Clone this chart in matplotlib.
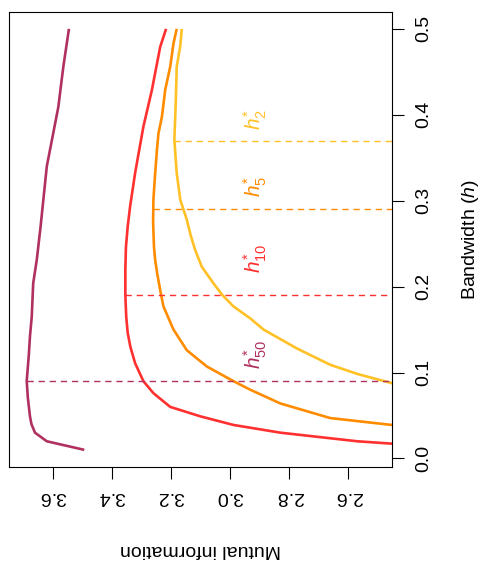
import numpy as np
import matplotlib
matplotlib.use("Agg")
import matplotlib.pyplot as plt

plt.rcParams['font.family'] = ['Liberation Sans', 'DejaVu Sans']
plt.rcParams['mathtext.fontset'] = 'custom'
plt.rcParams['mathtext.rm'] = 'Liberation Sans'
plt.rcParams['mathtext.it'] = 'Liberation Sans:italic'

# ---- data (bandwidth h, mutual information) ----
h_50 = [0.010, 0.020, 0.030, 0.040, 0.049, 0.070, 0.090, 0.120, 0.142, 0.165,
        0.204, 0.231, 0.246, 0.270, 0.300, 0.340, 0.370, 0.409, 0.456, 0.500]
mi_50 = [3.493, 3.620, 3.660, 3.672, 3.677, 3.684, 3.688, 3.681, 3.677, 3.671,
         3.666, 3.654, 3.649, 3.641, 3.632, 3.620, 3.603, 3.581, 3.564, 3.545]

h_10 = [0.016, 0.020, 0.030, 0.039, 0.049, 0.060, 0.076, 0.090, 0.111, 0.130,
        0.146, 0.165, 0.190, 0.220, 0.246, 0.270, 0.293, 0.332, 0.386, 0.429,
        0.479, 0.500]
mi_10 = [2.400, 2.569, 2.829, 2.988, 3.100, 3.202, 3.259, 3.293, 3.321, 3.337,
         3.346, 3.351, 3.354, 3.354, 3.352, 3.346, 3.338, 3.321, 3.293, 3.264,
         3.236, 3.216]

h_5 = [0.037, 0.039, 0.047, 0.064, 0.080, 0.090, 0.107, 0.126, 0.150, 0.177,
       0.196, 0.215, 0.231, 0.246, 0.275, 0.301, 0.332, 0.359, 0.378, 0.398,
       0.429, 0.456, 0.483, 0.500]
mi_5 = [2.400, 2.452, 2.660, 2.829, 2.931, 2.988, 3.078, 3.146, 3.191, 3.225,
        3.236, 3.246, 3.253, 3.257, 3.260, 3.259, 3.253, 3.247, 3.242, 3.230,
        3.219, 3.202, 3.191, 3.180]

h_2 = [0.085, 0.0877, 0.098, 0.109, 0.128, 0.150, 0.163, 0.177, 0.190, 0.204,
       0.223, 0.243, 0.260, 0.278, 0.301, 0.332, 0.371, 0.417, 0.456, 0.480,
       0.500]
mi_2 = [2.400, 2.452, 2.565, 2.660, 2.773, 2.886, 2.931, 2.988, 3.025, 3.056,
        3.095, 3.118, 3.133, 3.146, 3.168, 3.180, 3.188, 3.183, 3.180, 3.168,
        3.163]

h_star = [0.09, 0.19, 0.29, 0.37]
star_names = ['50', '10', '5', '2']
label_h = [0.121, 0.233, 0.316, 0.395]
label_mi = 2.915

colors = ['#B03060', '#FF3030', '#FF8C00', '#FFC125']

curves = [(h_50, mi_50), (h_10, mi_10), (h_5, mi_5), (h_2, mi_2)]

# ---- figure: the R plot rotated 90 degrees counter-clockwise ----
fig = plt.figure(figsize=(4.85, 5.63), dpi=100)
ax = fig.add_axes([9 / 485, 1 - 466.7 / 563, 382.7 / 485, 454.7 / 563])

for (h, mi), c in zip(curves, colors):
    ax.plot(mi, h, color=c, lw=1.9, solid_capstyle='butt',
            solid_joinstyle='round')

for (h, mi), c, hs, nm, lh in zip(curves, colors, h_star, star_names, label_h):
    m0 = np.interp(hs, h, mi)
    ax.plot([m0, 2.3], [hs, hs], color=c, lw=1.0, dashes=(4.5, 3.5))
    ax.text(label_mi, lh, r'$h^{*}_{%s}$' % nm, color=c, fontsize=15,
            rotation=90, ha='center', va='center')

ax.set_xlim(3.748, 2.452)
ax.set_ylim(-0.0096, 0.5196)

ax.yaxis.tick_right()
ax.set_yticks([0.0, 0.1, 0.2, 0.3, 0.4, 0.5])
ax.set_yticklabels(['0.0', '0.1', '0.2', '0.3', '0.4', '0.5'],
                   rotation=90, va='center')
ax.set_xticks([3.6, 3.4, 3.2, 3.0, 2.8, 2.6])
ax.set_xticklabels(['3.6', '3.4', '3.2', '3.0', '2.8', '2.6'], rotation=180)
ax.tick_params(axis='both', length=8.6, width=0.8, labelsize=14)
ax.tick_params(axis='y', pad=8)
ax.tick_params(axis='x', pad=7)
for s in ax.spines.values():
    s.set_linewidth(0.8)

ax.text(1.2046, 0.5, r'Bandwidth ($h$)', transform=ax.transAxes,
        rotation=90, ha='center', va='center', fontsize=14)
ax.text(0.5, -0.183, 'Mutual information', transform=ax.transAxes,
        rotation=180, ha='center', va='center', fontsize=14)

fig.savefig('out.png', dpi=100)
